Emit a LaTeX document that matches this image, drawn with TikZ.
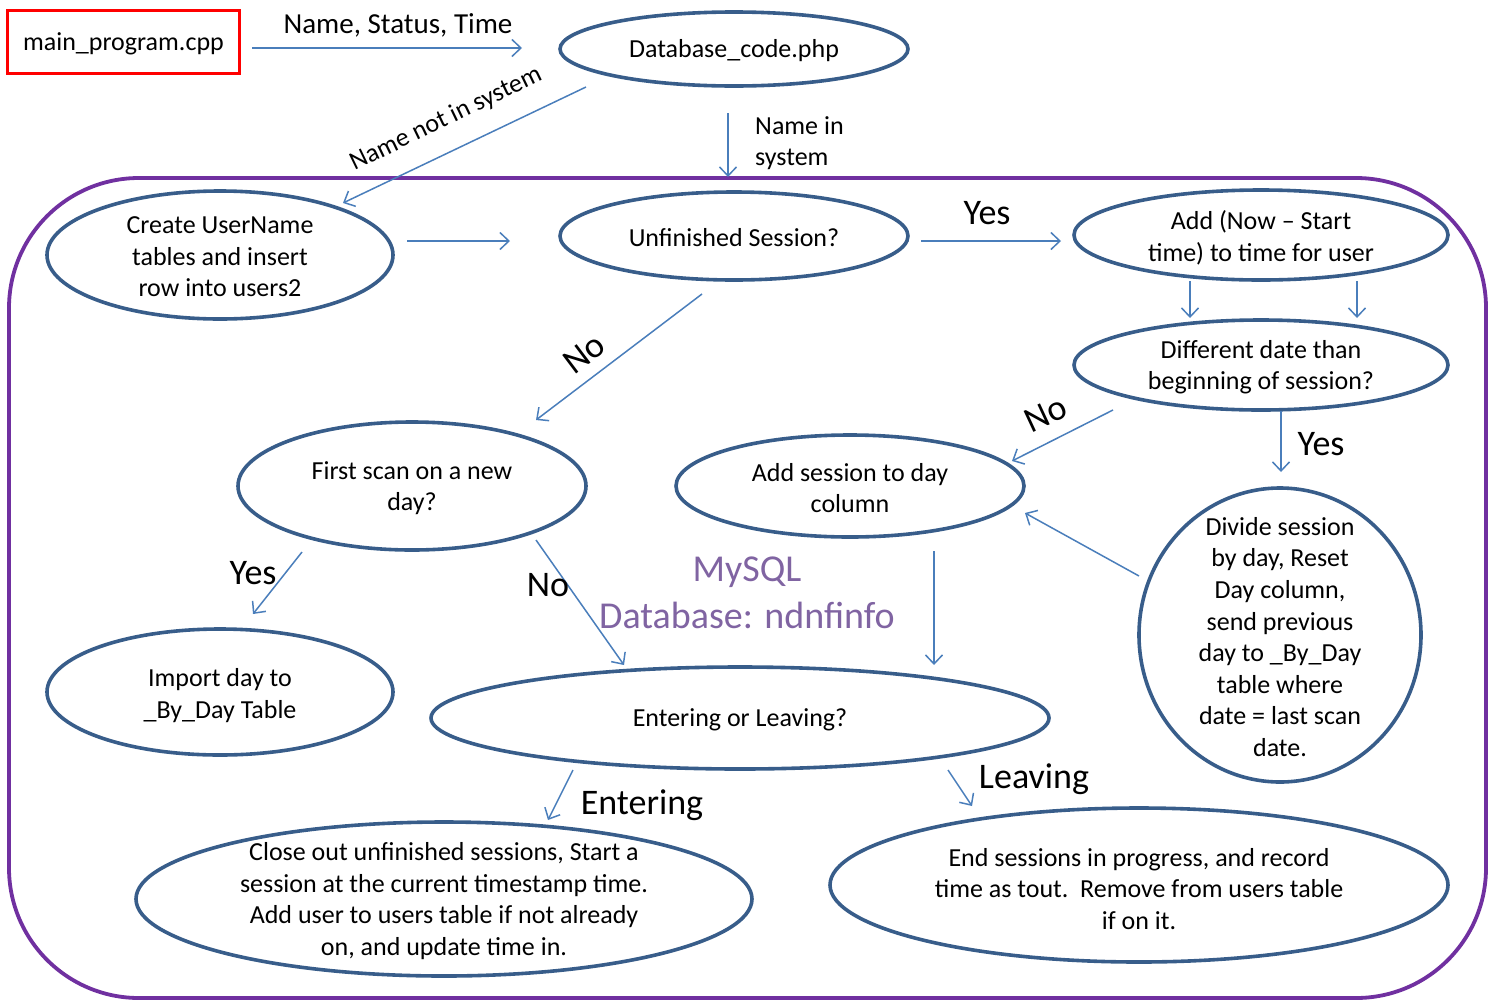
\documentclass[tikz,border=0pt]{standalone}
\usepackage{fontspec}
\setmainfont{Carlito}
\usetikzlibrary{shapes.geometric,arrows.meta}
\definecolor{ovalblue}{RGB}{56,93,138}
\definecolor{linkblue}{RGB}{74,126,187}
\definecolor{zonepurple}{RGB}{112,48,160}
\definecolor{dbpurple}{RGB}{128,100,162}
\tikzset{
  oval/.style={ellipse, draw=ovalblue, line width=3.6pt, fill=white, inner sep=0pt},
  txt/.style={align=center, font=\fontsize{26}{31.6}\selectfont, inner sep=0pt, yshift=-2pt},
  lbl/.style={font=\fontsize{29}{34}\selectfont, inner sep=0pt, yshift=-1pt},
  biglbl/.style={font=\fontsize{36}{42}\selectfont, inner sep=0pt, yshift=-2pt},
  link/.style={draw=linkblue, line width=1.5pt, -{Straight Barb[length=9pt,width=17pt,line width=1.5pt]}},
}
\begin{document}
\begin{tikzpicture}[x=1pt,y=-1pt]
\useasboundingbox (0,0) rectangle (1494,1002);

% enclosing database region
\draw[zonepurple, line width=3.8pt, rounded corners=130pt] (9,178) rectangle (1486,998);
\node[font=\fontsize{38}{46.4}\selectfont, text=dbpurple, align=center, inner sep=0pt, yshift=-2pt] (mysql) at (747,591) {MySQL\\Database: ndnfinfo};

% source program
\node[draw=red, line width=3.5pt, minimum width=232pt, minimum height=63pt, inner sep=0pt, font=\fontsize{26}{31.6}\selectfont] (main) at (123.5,42) {};
\node[txt] at (main) {main\_program.cpp};

% shapes
\node[oval, minimum width=348pt, minimum height=74pt] (db) at (734,49) {};
\node[txt] at (db) {Database\_code.php};
\node[oval, minimum width=346pt, minimum height=128pt] (create) at (220,255) {};
\node[txt] at (create) {Create UserName\\tables and insert\\row into users2};
\node[oval, minimum width=348pt, minimum height=88pt] (unfin) at (734,236) {};
\node[txt] at (unfin) {Unfinished Session?};
\node[oval, minimum width=374pt, minimum height=90pt] (addnow) at (1261,235) {};
\node[txt] at (1261,236) {Add (Now -- Start\\time) to time for user};
\node[oval, minimum width=374pt, minimum height=90pt] (diff) at (1261,365) {};
\node[txt] at (diff) {Different date than\\beginning of session?};
\node[oval, minimum width=348pt, minimum height=128pt] (first) at (412,486) {};
\node[txt] at (first) {First scan on a new\\day?};
\node[oval, minimum width=348pt, minimum height=102pt] (addday) at (850,486) {};
\node[txt] at (addday) {Add session to day\\column};
\node[oval, minimum width=282pt, minimum height=294pt] (divide) at (1280,635) {};
\node[txt] at (divide) {Divide session\\by day, Reset\\Day column,\\send previous\\day to \_By\_Day\\table where\\date = last scan\\date.};
\node[oval, minimum width=346pt, minimum height=126pt] (import) at (220,692) {};
\node[txt] at (220,693.5) {Import day to\\\_By\_Day Table};
\node[oval, minimum width=618pt, minimum height=102pt] (inout) at (740,718) {};
\node[txt] at (inout) {Entering or Leaving?};
\node[oval, minimum width=616pt, minimum height=154pt] (close) at (444,899) {};
\node[txt] at (close) {Close out unfinished sessions, Start a\\session at the current timestamp time.\\Add user to users table if not already\\on, and update time in.};
\node[oval, minimum width=618pt, minimum height=154pt] (endses) at (1139,885) {};
\node[txt] at (1139,887) {End sessions in progress, and record\\time as tout.\ \ Remove from users table\\if on it.};

% connector end points
\coordinate (a1) at (252,48);   \coordinate (a2) at (522,48);
\coordinate (b1) at (586,87);   \coordinate (b2) at (343,203);
\coordinate (c1) at (728,113);  \coordinate (c2) at (728,177);
\coordinate (d1) at (407,241);  \coordinate (d2) at (510,241);
\coordinate (e1) at (921,241);  \coordinate (e2) at (1061,241);
\coordinate (f1) at (1190,281); \coordinate (f2) at (1190,318);
\coordinate (g1) at (1357,281); \coordinate (g2) at (1357,318);
\coordinate (h1) at (702,294);  \coordinate (h2) at (536,420);
\coordinate (i1) at (1113,410); \coordinate (i2) at (1012,461);
\coordinate (j1) at (1281,411); \coordinate (j2) at (1281,472);
\coordinate (k1) at (1139,576); \coordinate (k2) at (1025,513);
\coordinate (l1) at (934,551);  \coordinate (l2) at (934,665);
\coordinate (m1) at (302,552);  \coordinate (m2) at (253,614);
\coordinate (n1) at (536,540);  \coordinate (n2) at (624,665);
\coordinate (o1) at (573,770);  \coordinate (o2) at (548,820);
\coordinate (p1) at (948,770);  \coordinate (p2) at (972,806);

% connectors
\draw[link] (a1) -- (a2);
\draw[link] (b1) -- (b2);
\draw[link] (c1) -- (c2);
\draw[link] (d1) -- (d2);
\draw[link] (e1) -- (e2);
\draw[link] (f1) -- (f2);
\draw[link] (g1) -- (g2);
\draw[link] (h1) -- (h2);
\draw[link] (i1) -- (i2);
\draw[link] (j1) -- (j2);
\draw[link] (k1) -- (k2);
\draw[link] (l1) -- (l2);
\draw[link] (m1) -- (m2);
\draw[link] (n1) -- (n2);
\draw[link] (o1) -- (o2);
\draw[link] (p1) -- (p2);

% connector labels
\node[lbl] (t1) at (398,24) {Name, Status, Time};
\node[font=\fontsize{26}{31.6}\selectfont, inner sep=0pt, rotate=25.8] (t2) at (446,119) {Name not in system};
\node[txt, align=left, anchor=west] (t3) at (755,141) {Name in\\system};
\node[biglbl] (t4) at (987,211) {Yes};
\node[biglbl, rotate=37] (t5) at (584,352) {No};
\node[biglbl, rotate=25] (t6) at (1046,412) {No};
\node[biglbl] (t7) at (1321,442) {Yes};
\node[biglbl] (t8) at (253,571) {Yes};
\node[biglbl] (t9) at (548,583) {No};
\node[biglbl] (t10) at (642,803) {Entering};
\node[biglbl] (t11) at (1034,777) {Leaving};
\end{tikzpicture}
\end{document}
